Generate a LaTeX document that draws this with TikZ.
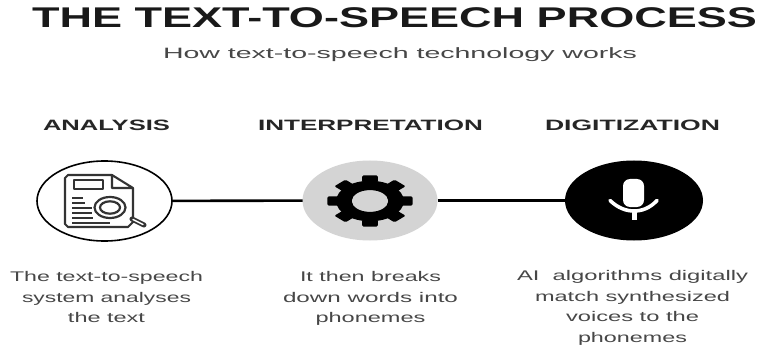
\documentclass[tikz,border=0pt]{standalone}
\usepackage{fontspec}
\usepackage{graphicx}
\setmainfont{Liberation Sans}
\usetikzlibrary{shapes.geometric}
\newcommand\fitw[2]{\setbox0\hbox{#2}\pgfmathsetmacro\fitr{#1/\the\wd0}\scalebox{\fitr}[1]{\box0}}
\tikzset{
  oval/.style={ellipse,minimum width=135pt,minimum height=80pt,inner sep=0pt,outer sep=0pt},
  link/.style={draw=black,line width=2.6pt},
  head/.style={inner sep=0pt,font=\bfseries\fontsize{15}{18}\selectfont,text=black!85},
  body/.style={inner sep=0pt,align=center,font=\fontsize{14}{20.5}\selectfont,text=black!72},
  ink/.style={draw=black!80,line width=2.1pt,line join=round},
}
\begin{document}
\begin{tikzpicture}[x=1pt,y=-1pt]
\useasboundingbox (0,0) rectangle (774,350);
\fill[white] (0,0) rectangle (774,350);
\node[inner sep=0pt,font=\bfseries\fontsize{28.5}{32}\selectfont,text=black!90] (title) at (394.5,18) {\fitw{725}{THE TEXT-TO-SPEECH PROCESS}};
\node[inner sep=0pt,font=\fontsize{15}{19}\selectfont,text=black!72] (sub) at (400,54.5) {\fitw{474}{How text-to-speech technology works}};
\node[head] (h1) at (106.5,125) {\fitw{127}{ANALYSIS}};
\node[head] (h2) at (370.5,125) {\fitw{225}{INTERPRETATION}};
\node[head] (h3) at (632.5,125) {\fitw{175}{DIGITIZATION}};
\node[oval,draw=black,line width=1.6pt,fill=white] (a) at (104.5,201) {};
\node[oval,fill=black!17] (b) at (370,200.5) {};
\node[oval,fill=black,minimum width=138pt] (c) at (634,200.5) {};
\draw[link] (a) -- (b);
\draw[link] (b) -- (c);
% document icon
\draw[ink] (112,175) -- (68,175) -- (65,178) -- (65,224) -- (68,227) -- (128,227) -- (133,222) -- (133,188) -- (112,175) -- (112,188) -- (133,188);
\draw[ink] (74,180) rectangle (103,189);
\foreach \yy/\xx in {198/83,203/85,208/92,213/92,218/93,223/110}{\draw[draw=black!80,line width=1.9pt] (72,\yy) -- (\xx,\yy);}
\draw[fill=white,draw=black!80,line width=2.2pt] (110,207.5) ellipse (15.5 and 10.5);
\draw[fill=white,draw=black!80,line width=2.2pt] (110,207.5) ellipse (10 and 6.2);
\draw[draw=black!80,line width=5pt,line cap=round] (132,219) -- (144,225);
\draw[draw=white,line width=1.4pt,line cap=round] (133,219.5) -- (143,224.5);
% gear
\begin{scope}[shift={(370,201)},xscale=1.3,yscale=0.78]
  \foreach \ang in {0,45,...,315}{
    \fill[black,rotate=\ang,rounded corners=1.2pt] (-6,-24) rectangle (6,-32.7);
  }
  \fill[black,even odd rule] (0,0) circle (26) (0,0) circle (14);
\end{scope}
\fill[black!17] (370,201) ellipse (18 and 9.5);
% microphone
\fill[white,rounded corners=7pt] (623,179) rectangle (644,207);
\draw[white,line width=3.6pt,line cap=round] (610,200.5) .. controls (618,208) and (626,211) .. (634,211) .. controls (642,211) and (650,208) .. (657,200.5);
\draw[white,line width=5pt] (634,211) -- (634,220);
\node[body] (t1) at (106.5,297) {\fitw{193}{The text-to-speech}\\\fitw{169}{system analyses}\\\fitw{77}{the text}};
\node[body] (t2) at (370.5,298.5) {\fitw{141}{It then breaks}\\\fitw{175}{down words into}\\\fitw{110}{phonemes}};
\node[body] (t3) at (632.5,308) {\fitw{231}{AI\ \ algorithms digitally}\\\fitw{195}{match synthesized}\\\fitw{133}{voices to the}\\\fitw{109}{phonemes}};
\end{tikzpicture}
\end{document}
